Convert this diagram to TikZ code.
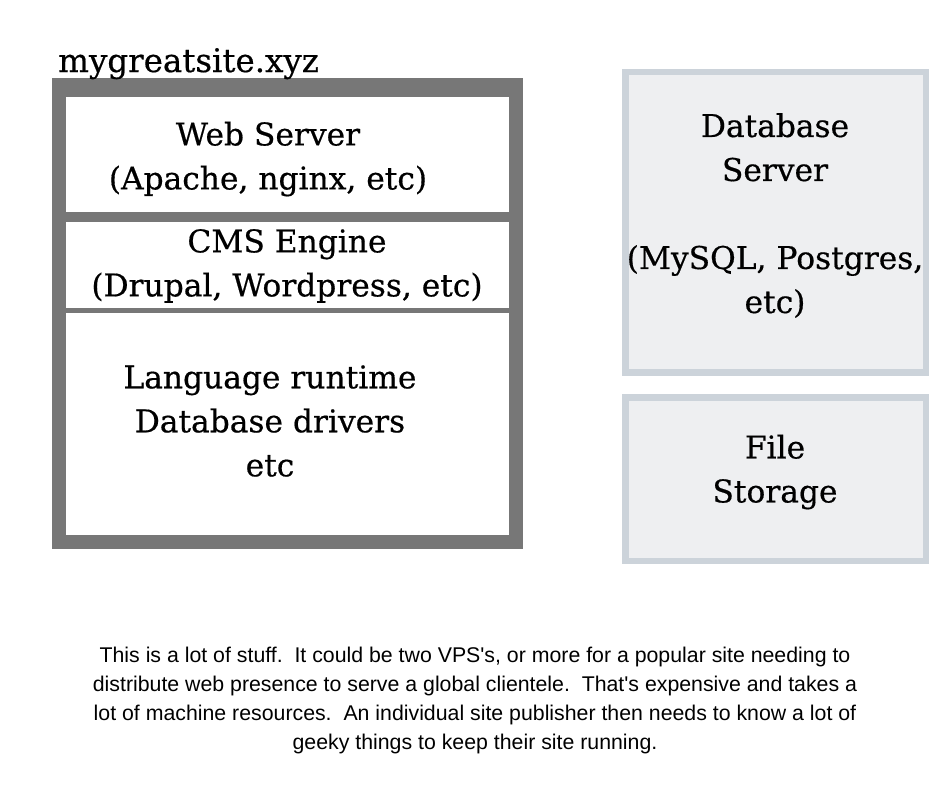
\documentclass[tikz,border=0pt]{standalone}
\usepackage{fontspec}
\setmainfont[FakeBold=0.5]{DejaVu Serif}
\newfontfamily\notefont{Liberation Sans}
\definecolor{framegray}{HTML}{777777}
\definecolor{sideborder}{HTML}{CCD3DA}
\definecolor{sidefill}{HTML}{EEEFF1}
\begin{document}
\begin{tikzpicture}[x=1pt,y=-1pt,
  layer/.style={fill=white,draw=none,inner sep=0pt},
  sidebox/.style={draw=sideborder,fill=sidefill,line width=6.5pt,inner sep=0pt},
  serif/.style={font=\fontsize{31.3}{44}\selectfont,align=center,inner sep=0pt,text=black},
  note/.style={font=\notefont\fontsize{21.3}{29}\selectfont,align=center,inner sep=0pt,text=black}]
\useasboundingbox[fill=white] (0,0) rectangle (940,788);
% site frame
\node[fill=framegray,inner sep=0pt,minimum width=471pt,minimum height=471pt] (site) at (287.75,313.5) {};
\node[layer,minimum width=443pt,minimum height=115.5pt] (web) at (287.5,154.25) {};
\node[layer,minimum width=443pt,minimum height=85.8pt] (cms) at (287.5,264.6) {};
\node[layer,minimum width=443pt,minimum height=221.2pt] (rt) at (287.5,423.9) {};
\node[serif,anchor=base west,font=\fontsize{32.5}{44}\selectfont] (title) at (58,72) {mygreatsite.xyz};
\node[serif] (webt) at (268,159) {Web Server\\(Apache, nginx, etc)};
\node[serif] (cmst) at (287,266) {CMS Engine\\(Drupal, Wordpress, etc)};
\node[serif] (rtt) at (270,421) {Language runtime\\Database drivers\\etc};
% right boxes
\node[sidebox,minimum width=300.5pt,minimum height=300.5pt] (db) at (775.5,222.1) {};
\node[sidebox,minimum width=300.5pt,minimum height=163.5pt] (fs) at (775.5,479) {};
\node[serif] (dbt) at (775,215.5) {Database\\Server\\[44pt](MySQL, Postgres,\\etc)};
\node[serif] (fst) at (775,472) {File\\Storage};
% note
\node[note] (txt) at (475,700) {This is a lot of stuff.\ \ It could be two VPS's, or more for a popular site needing to\\distribute web presence to serve a global clientele.\ \ That's expensive and takes a\\lot of machine resources.\ \ An individual site publisher then needs to know a lot of\\geeky things to keep their site running.};
\end{tikzpicture}
\end{document}
